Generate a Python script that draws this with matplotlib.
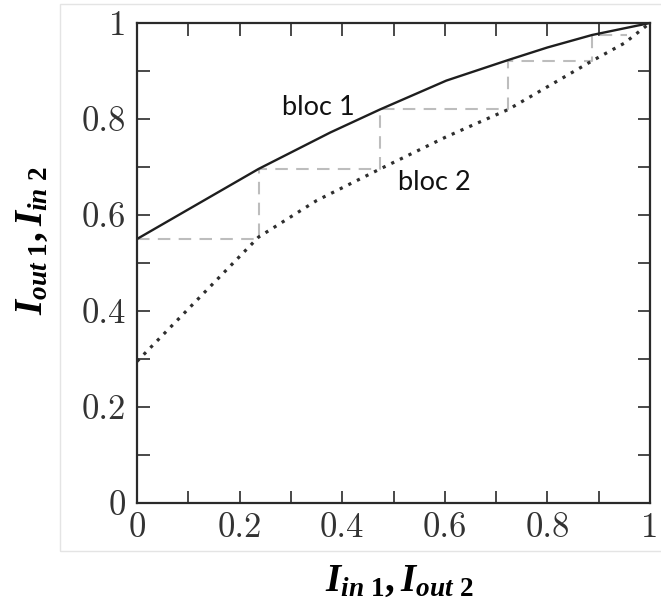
import matplotlib
matplotlib.use("Agg")
import matplotlib.pyplot as plt
from matplotlib.patches import Rectangle

plt.rcParams["mathtext.fontset"] = "custom"
plt.rcParams["mathtext.it"] = "Liberation Serif:italic:bold"
plt.rcParams["mathtext.rm"] = "Liberation Serif:bold"
plt.rcParams["mathtext.bf"] = "Liberation Serif:bold"

# bloc 1 (solid)
x_bloc1 = [0.0, 0.237, 0.377, 0.474, 0.603, 0.724, 0.80, 0.887, 1.0]
y_bloc1 = [0.55, 0.696, 0.772, 0.82, 0.88, 0.923, 0.949, 0.975, 1.0]

# bloc 2 (dotted)
x_bloc2 = [0.0, 0.237, 0.35, 0.474, 0.603, 0.724, 0.887, 0.95, 1.0]
y_bloc2 = [0.295, 0.554, 0.630, 0.696, 0.763, 0.82, 0.921, 0.958, 1.0]

# dashed staircase between the two blocs
x_stairs = [0.0, 0.237, 0.237, 0.474, 0.474, 0.724, 0.724, 0.887, 0.887, 0.955]
y_stairs = [0.55, 0.55, 0.696, 0.696, 0.82, 0.82, 0.921, 0.921, 0.975, 0.975]

tick_vals = [0, 0.2, 0.4, 0.6, 0.8, 1]
tick_labels = ["0", "0.2", "0.4", "0.6", "0.8", "1"]
minor_vals = [0.1, 0.3, 0.5, 0.7, 0.9]

fig = plt.figure(figsize=(6.61, 6.06), dpi=100)
ax = fig.add_axes([137 / 661, 103 / 606, 513 / 661, 480 / 606])

# faint frame around the figure
fig.add_artist(Rectangle((60 / 661, 55 / 606), 0.95, 547 / 606, transform=fig.transFigure,
                         fill=False, edgecolor="#e4e4e4", linewidth=1.0))

ax.plot(x_stairs, y_stairs, color="#bdbdbd", linewidth=1.5, dashes=(6, 4))
ax.plot(x_bloc1, y_bloc1, color="#1e1e1e", linewidth=1.7)
ax.plot(x_bloc2, y_bloc2, color="#2e2e2e", linewidth=2.3, linestyle=(0, (1, 2)))

ax.text(0.283, 0.808, "bloc 1", fontfamily="Lato", fontsize=19.5, color="#111111")
ax.text(0.509, 0.652, "bloc 2", fontfamily="Lato", fontsize=19.5, color="#111111")

ax.set_xlim(0, 1)
ax.set_ylim(0, 1)
ax.set_xticks(tick_vals)
ax.set_yticks(tick_vals)
ax.set_xticks(minor_vals, minor=True)
ax.set_yticks(minor_vals, minor=True)
ax.set_xticklabels(tick_labels, fontfamily="cmr10", fontsize=25, color="#333333")
ax.set_yticklabels(tick_labels, fontfamily="cmr10", fontsize=25, color="#333333")
ax.tick_params(which="both", direction="in", length=9, width=1.2, color="#2a2a2a",
               top=True, right=True)
ax.tick_params(axis="x", which="major", pad=7)
ax.tick_params(axis="y", which="major", pad=8)
for s in ax.spines.values():
    s.set_linewidth(1.6)
    s.set_color("#2a2a2a")

ax.set_xlabel(r"$I_{in\ \mathit{1}}, I_{out\ \mathit{2}}$", fontsize=28)
ax.set_ylabel(r"$I_{out\ \mathit{1}}, I_{in\ \mathit{2}}$", fontsize=28)
ax.xaxis.set_label_coords(0.511, -0.12)
ax.yaxis.set_label_coords(-0.17, 0.546)

fig.savefig("out.png", dpi=100)
